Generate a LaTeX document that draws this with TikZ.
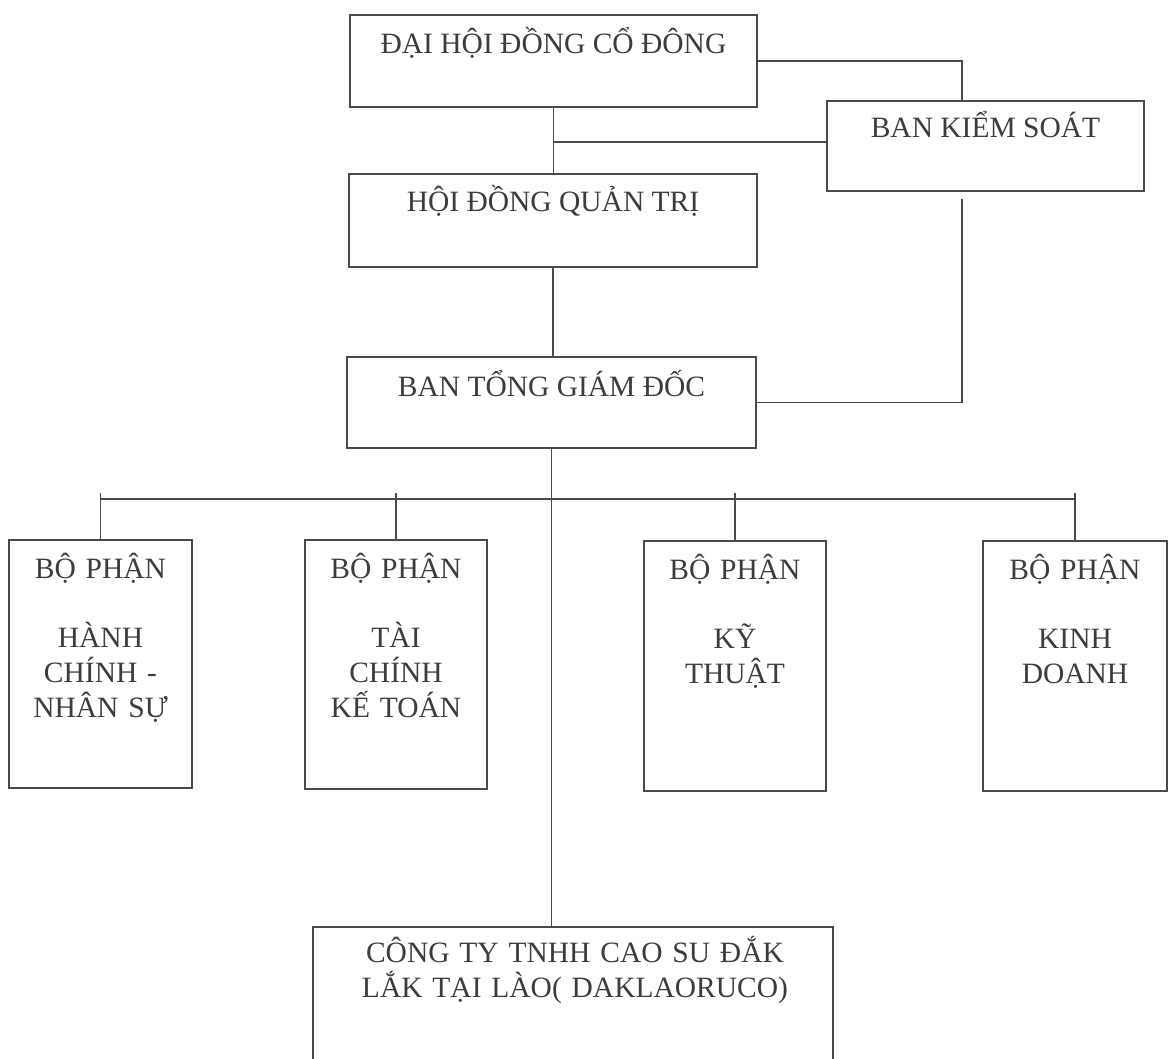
\documentclass[tikz,border=0pt]{standalone}
\usepackage{fontspec}
\setmainfont{Liberation Serif}
\definecolor{ink}{HTML}{3C3C3C}
\definecolor{edge}{HTML}{4A4A4A}
\begin{document}
\begin{tikzpicture}[x=1pt,y=-1pt,
  box/.style={draw=edge, line width=1.3pt, inner sep=0pt},
  txt/.style={text=ink, inner sep=0pt, font=\fontsize{29.5}{35}\selectfont, anchor=base},
  mtxt/.style={txt, align=center, text width=#1},
  conn/.style={draw=edge, line width=1.3pt}]
\useasboundingbox (0,0) rectangle (1172,1059);
\clip (0,0) rectangle (1172,1059);
\fill[white] (0,0) rectangle (1172,1059);
% boxes
\node[box, minimum width=407pt, minimum height=92pt] (dh) at (553.5,61) {};
\node[box, minimum width=317pt, minimum height=90pt] (bks) at (985.5,146) {};
\node[box, minimum width=408pt, minimum height=93pt] (hd) at (553,220.5) {};
\node[box, minimum width=409pt, minimum height=91pt] (tg) at (551.5,402.5) {};
\node[box, minimum width=183pt, minimum height=248pt] (b1) at (100.5,664) {};
\node[box, minimum width=182pt, minimum height=249pt] (b2) at (396,664.5) {};
\node[box, minimum width=182pt, minimum height=250pt] (b3) at (735,666) {};
\node[box, minimum width=184pt, minimum height=250pt] (b4) at (1075,666) {};
\node[box, minimum width=520pt, minimum height=148pt] (ct) at (573,1001) {};
% texts
\node[txt] (dht) at (553.5,54) {ĐẠI HỘI ĐỒNG CỔ ĐÔNG};
\node[txt] (bkst) at (985.5,138) {BAN KIỂM SOÁT};
\node[txt] (hdt) at (553,212) {HỘI ĐỒNG QUẢN TRỊ};
\node[txt] (tgt) at (551.5,396) {BAN TỔNG GIÁM ĐỐC};
\node[mtxt=180pt] (b1t) at (100.5,578) {BỘ PHẬN\\[34pt]HÀNH\\CHÍNH -\\NHÂN SỰ};
\node[mtxt=180pt] (b2t) at (396,578) {BỘ PHẬN\\[34pt]TÀI\\CHÍNH\\KẾ TOÁN};
\node[mtxt=180pt] (b3t) at (735,579) {BỘ PHẬN\\[34pt]KỸ\\THUẬT};
\node[mtxt=180pt] (b4t) at (1075,579) {BỘ PHẬN\\[34pt]KINH\\DOANH};
\node[mtxt=500pt] (ctt) at (575,962) {CÔNG TY TNHH CAO SU ĐẮK\\LẮK TẠI LÀO( DAKLAORUCO)};
% helper coordinates
\coordinate (k1) at (962,0);
\coordinate (k2) at (962,199);
\coordinate (j) at (0,142);
\coordinate (busline) at (0,499);
\coordinate (bustop) at (0,493);
% connectors
\draw[conn] (dh.east) -| (bks.north -| k1);
\draw[conn] (dh.south) -- (dh.south |- hd.north);
\draw[conn] (j -| dh.south) -- (j -| bks.west);
\draw[conn] (hd.south) -- (hd.south |- tg.north);
\draw[conn] (k2) |- (tg.east);
\draw[conn] (tg.south) -- (tg.south |- ct.north);
\draw[conn] (b1.north |- busline) -- (b4.north |- busline);
\foreach \b in {b1,b2,b3,b4} \draw[conn] (\b.north) -- (\b.north |- bustop);
\end{tikzpicture}
\end{document}
